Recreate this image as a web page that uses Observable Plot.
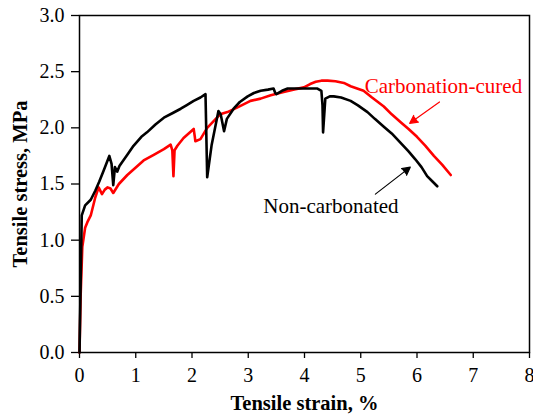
<!DOCTYPE html>
<html>
<head>
<meta charset="utf-8">
<script src="https://cdn.jsdelivr.net/npm/d3@7"></script>
<script src="https://cdn.jsdelivr.net/npm/@observablehq/plot@0.6"></script>
<style>
  html, body { margin: 0; padding: 0; background: #fff; }
  svg text { font-family: 'Liberation Serif', 'Times New Roman', serif; }
</style>
</head>
<body>
<div id="chart"></div>
<script>
// Non-carbonated (black)
const strainNon = [0, 0.02, 0.04, 0.1, 0.2, 0.28, 0.35, 0.43, 0.53, 0.57, 0.6, 0.63, 0.67, 0.71, 0.75, 0.85, 0.96, 1.1, 1.2, 1.35, 1.5, 1.65, 1.8, 1.9, 2.03, 2.15, 2.24, 2.27, 2.35, 2.47, 2.51, 2.57, 2.62, 2.74, 2.85, 2.99, 3.1, 3.22, 3.35, 3.45, 3.48, 3.5, 3.6, 3.7, 3.85, 3.99, 4.1, 4.23, 4.3, 4.32, 4.33, 4.37, 4.45, 4.52, 4.65, 4.82, 4.95, 5.12, 5.25, 5.41, 5.55, 5.7, 5.85, 5.97, 6.08, 6.18, 6.28, 6.36];
const stressNon = [0, 0.6, 1.22, 1.31, 1.36, 1.44, 1.52, 1.62, 1.75, 1.68, 1.49, 1.65, 1.61, 1.66, 1.69, 1.76, 1.84, 1.92, 1.96, 2.03, 2.09, 2.13, 2.17, 2.2, 2.24, 2.27, 2.30, 1.56, 1.85, 2.15, 2.12, 1.97, 2.08, 2.17, 2.23, 2.28, 2.31, 2.33, 2.34, 2.35, 2.31, 2.30, 2.33, 2.35, 2.35, 2.35, 2.35, 2.35, 2.33, 2.2, 1.96, 2.26, 2.28, 2.28, 2.27, 2.24, 2.2, 2.14, 2.08, 2.01, 1.95, 1.87, 1.79, 1.72, 1.65, 1.57, 1.52, 1.48];

// Carbonation-cured (red)
const strainCarb = [0, 0.02, 0.05, 0.1, 0.14, 0.2, 0.28, 0.34, 0.4, 0.45, 0.5, 0.55, 0.6, 0.7, 0.85, 1.14, 1.32, 1.5, 1.62, 1.65, 1.67, 1.69, 1.74, 1.85, 2.03, 2.05, 2.06, 2.15, 2.27, 2.5, 2.63, 2.8, 3.04, 3.22, 3.4, 3.63, 3.8, 3.99, 4.1, 4.2, 4.3, 4.41, 4.55, 4.7, 4.82, 5.05, 5.2, 5.41, 5.55, 5.71, 5.85, 6.0, 6.15, 6.3, 6.45, 6.6];
const stressCarb = [0, 0.5, 0.94, 1.11, 1.16, 1.22, 1.38, 1.47, 1.41, 1.45, 1.47, 1.46, 1.42, 1.5, 1.58, 1.71, 1.76, 1.81, 1.85, 1.80, 1.57, 1.80, 1.84, 1.91, 1.99, 1.92, 1.88, 1.90, 2.0, 2.12, 2.14, 2.18, 2.24, 2.26, 2.29, 2.32, 2.34, 2.36, 2.39, 2.41, 2.42, 2.42, 2.415, 2.40, 2.37, 2.33, 2.27, 2.19, 2.12, 2.05, 1.99, 1.92, 1.84, 1.75, 1.67, 1.58];

const xTicks = [0, 1, 2, 3, 4, 5, 6, 7, 8];
const yTicks = [0, 0.5, 1.0, 1.5, 2.0, 2.5, 3.0];

const xLabel = "Tensile strain, %";
const yLabel = "Tensile stress, MPa";

// annotations: label positions and arrow tail/head (data units)
const annotations = [
  {text: "Carbonation-cured", x: 6.47, y: 2.37, color: "#ff0000", x1: 6.4, y1: 2.23, x2: 5.87, y2: 2.04},
  {text: "Non-carbonated", x: 4.47, y: 1.3, color: "#000000", x1: 5.26, y1: 1.41, x2: 5.88, y2: 1.65}
];

const nonData = strainNon.map((x, i) => ({x, y: stressNon[i]}));
const carbData = strainCarb.map((x, i) => ({x, y: stressCarb[i]}));

const serif = "'Liberation Serif', 'Times New Roman', serif";

const chart = Plot.plot({
  width: 533,
  height: 414,
  marginLeft: 79,
  marginRight: 4,
  marginTop: 15,
  marginBottom: 62,
  style: {fontFamily: serif, fontSize: "19px", color: "#000", background: "#fff"},
  x: {domain: [0, 8]},
  y: {domain: [0, 3]},
  marks: [
    Plot.axisX({ticks: xTicks, tickSize: 6, tickPadding: 9, tickFormat: d3.format("d"), label: null, strokeWidth: 1.3, fontFamily: serif, fontSize: 20, fontVariant: "normal"}),
    Plot.axisY({ticks: yTicks, tickSize: 8, tickPadding: 7, tickFormat: d3.format(".1f"), label: null, strokeWidth: 1.3, fontFamily: serif, fontSize: 20, fontVariant: "normal"}),
    Plot.line(carbData, {x: "x", y: "y", stroke: "#ff0000", strokeWidth: 2.6, curve: "linear"}),
    Plot.line(nonData, {x: "x", y: "y", stroke: "#000000", strokeWidth: 2.6, curve: "linear"}),
    Plot.frame({stroke: "#000", strokeWidth: 1.5}),
    Plot.arrow(annotations, {x1: "x1", y1: "y1", x2: "x2", y2: "y2", stroke: "color", fill: "color", strokeWidth: 1.2, headLength: 11, headAngle: 55, strokeLinejoin: "miter"}),
    Plot.text(annotations, {x: "x", y: "y", text: "text", fill: "color", fontSize: 21, textAnchor: "middle", fontFamily: serif}),
    Plot.text([xLabel], {frameAnchor: "bottom", dy: 51, lineAnchor: "middle", textAnchor: "middle", text: d => d, fontWeight: "bold", fontSize: 20.5, fontFamily: serif}),
    Plot.text([yLabel], {frameAnchor: "left", dx: -59, rotate: -90, lineAnchor: "middle", textAnchor: "middle", text: d => d, fontWeight: "bold", fontSize: 20.5, fontFamily: serif})
  ]
});
document.getElementById("chart").appendChild(chart);
</script>
</body>
</html>
